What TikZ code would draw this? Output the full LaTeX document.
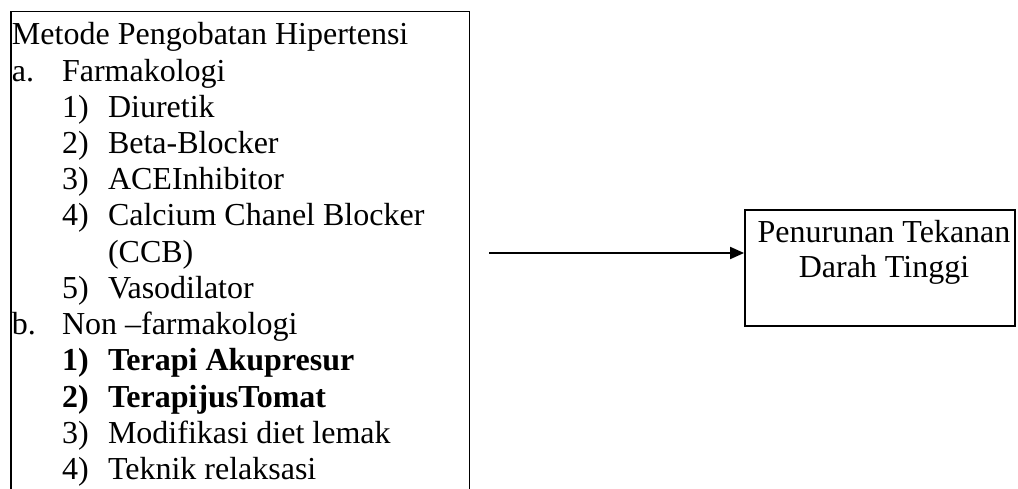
\documentclass[tikz,border=0pt]{standalone}
\usepackage{fontspec}
\setmainfont{Liberation Serif}
\usetikzlibrary{arrows.meta}
\begin{document}
\begin{tikzpicture}[x=1pt,y=-1pt,
  txt/.style={anchor=base west,inner sep=0pt,outer sep=0pt,font=\fontsize{32}{36}\selectfont},
  btxt/.style={txt,font=\fontsize{32}{36}\selectfont\bfseries},
  frame/.style={draw=black,line width=1.8pt},
  conn/.style={line width=1.8pt,-{Triangle[length=14pt,width=12pt]}}]
\useasboundingbox (0,0) rectangle (1018,489);
% left open box
\draw[frame] (11,489) -- (11,11.5) -- (469.5,11.5) -- (469.5,489);
% lines of text
\node[txt] (t0) at (12,45) {Metode Pengobatan Hipertensi};
\node[txt] (la) at (12,81.2) {a.};
\node[txt] (ta) at (62,81.2) {Farmakologi};
\node[txt] (l1) at (62,117.4) {1)};
\node[txt] (t1) at (108,117.4) {Diuretik};
\node[txt] (l2) at (62,153.6) {2)};
\node[txt] (t2) at (108,153.6) {Beta-Blocker};
\node[txt] (l3) at (62,189.8) {3)};
\node[txt] (t3) at (108,189.8) {ACEInhibitor};
\node[txt] (l4) at (62,226) {4)};
\node[txt] (t4) at (108,226) {Calcium Chanel Blocker};
\node[txt] (t4b) at (108,262.2) {(CCB)};
\node[txt] (l5) at (62,298.4) {5)};
\node[txt] (t5) at (108,298.4) {Vasodilator};
\node[txt] (lb) at (12,334.6) {b.};
\node[txt] (tb) at (62,334.6) {Non –farmakologi};
\node[btxt] (m1) at (62,370.8) {1)};
\node[btxt] (n1) at (108,370.8) {Terapi Akupresur};
\node[btxt] (m2) at (62,407) {2)};
\node[btxt] (n2) at (108,407) {TerapijusTomat};
\node[txt] (m3) at (62,443.2) {3)};
\node[txt] (n3) at (108,443.2) {Modifikasi diet lemak};
\node[txt] (m4) at (62,479.4) {4)};
\node[txt] (n4) at (108,479.4) {Teknik relaksasi};
% right box
\node[frame,minimum width=270pt,minimum height=116pt,inner sep=0pt] (rb) at (880,268) {};
\node[anchor=base,inner sep=0pt,font=\fontsize{32}{35}\selectfont] (rt1) at (884,243) {Penurunan Tekanan};
\node[anchor=base,inner sep=0pt,font=\fontsize{32}{35}\selectfont] (rt2) at (884,278) {Darah Tinggi};
% arrow
\coordinate (as) at (489,253);
\draw[conn] (as) -- (as -| rb.west);
\end{tikzpicture}
\end{document}
